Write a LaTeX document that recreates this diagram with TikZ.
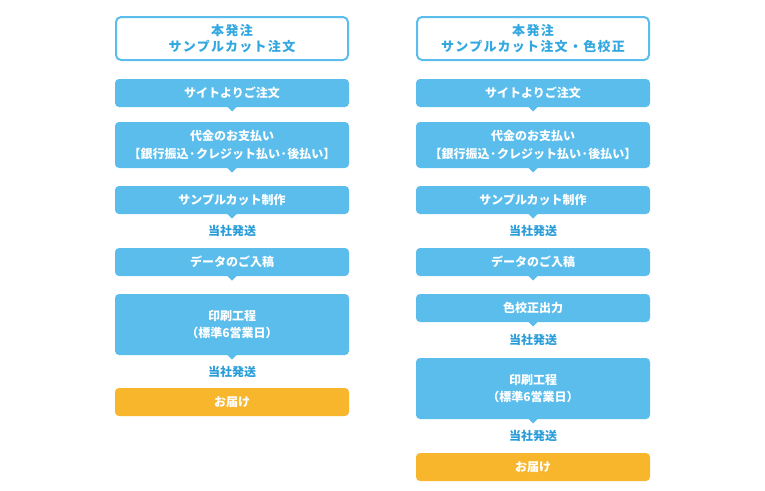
\documentclass[tikz,border=0pt]{standalone}
\usepackage{fontspec}
\newfontfamily\jp{Noto Sans CJK JP}
\newfontfamily\jphead[LetterSpace=10]{Noto Sans CJK JP}
\usetikzlibrary{positioning,calc}
\definecolor{boxblue}{HTML}{5BBDEB}
\definecolor{headblue}{HTML}{33A8E0}
\definecolor{shipblue}{HTML}{2A9DD8}
\definecolor{boxorange}{HTML}{F8B62D}
\tikzset{>=latex}
\newcommand{\pointer}[1]{\fill[boxblue] ($(#1.south)+(-5pt,0.5pt)$) -- ++(10pt,0) -- ++(-5pt,-5pt) -- cycle;}

\begin{document}
\begin{tikzpicture}[
  headbox/.style={draw=boxblue, line width=2pt, fill=white, rounded corners=5pt,
    minimum width=232pt, minimum height=43pt, inner sep=0pt, outer sep=0pt, align=center,
    text=headblue, font=\jphead\bfseries\fontsize{13}{16}\selectfont},
  flowbox/.style={fill=boxblue, rounded corners=4pt, minimum width=234pt,
    minimum height=28pt, inner sep=0pt, outer sep=0pt, align=center,
    text=white, font=\jp\bfseries\fontsize{12}{17.5}\selectfont},
  endbox/.style={flowbox, fill=boxorange},
  ship/.style={minimum height=34pt, inner sep=0pt, outer sep=0pt, text=shipblue,
    font=\jp\bfseries\fontsize{12}{14}\selectfont}
]
\useasboundingbox (0,0) rectangle (765pt,-490pt);

% left column
\node[headbox] (lhead) at (232pt,-38.5pt) {本発注\\サンプルカット注文};
\node[flowbox, below=19pt of lhead] (l1) {サイトよりご注文};
\node[flowbox, minimum height=46pt, below=15pt of l1] (l2) {代金のお支払い\\【銀行振込·クレジット払い·後払い】};
\node[flowbox, below=18pt of l2] (l3) {サンプルカット制作};
\node[ship, below=0pt of l3] (ls1) {当社発送};
\node[flowbox, below=0pt of ls1] (l4) {データのご入稿};
\node[flowbox, minimum height=61pt, below=18pt of l4] (l5) {印刷工程\\（標準6営業日）};
\node[ship, below=0pt of l5] (ls2) {当社発送};
\node[endbox, below=-1pt of ls2] (l6) {お届け};

% right column
\node[headbox] (rhead) at (533pt,-38.5pt) {本発注\\サンプルカット注文・色校正};
\node[flowbox, below=19pt of rhead] (r1) {サイトよりご注文};
\node[flowbox, minimum height=46pt, below=15pt of r1] (r2) {代金のお支払い\\【銀行振込·クレジット払い·後払い】};
\node[flowbox, below=18pt of r2] (r3) {サンプルカット制作};
\node[ship, below=0pt of r3] (rs1) {当社発送};
\node[flowbox, below=0pt of rs1] (r4) {データのご入稿};
\node[flowbox, below=18pt of r4] (r5) {色校正出力};
\node[ship, below=1pt of r5] (rs2) {当社発送};
\node[flowbox, minimum height=61pt, below=1pt of rs2] (r6) {印刷工程\\（標準6営業日）};
\node[ship, below=0pt of r6] (rs3) {当社発送};
\node[endbox, below=0pt of rs3] (r7) {お届け};

\foreach \b in {l1,l2,l3,l4,l5,r1,r2,r3,r4,r5,r6}
  \pointer{\b};
\end{tikzpicture}
\end{document}
